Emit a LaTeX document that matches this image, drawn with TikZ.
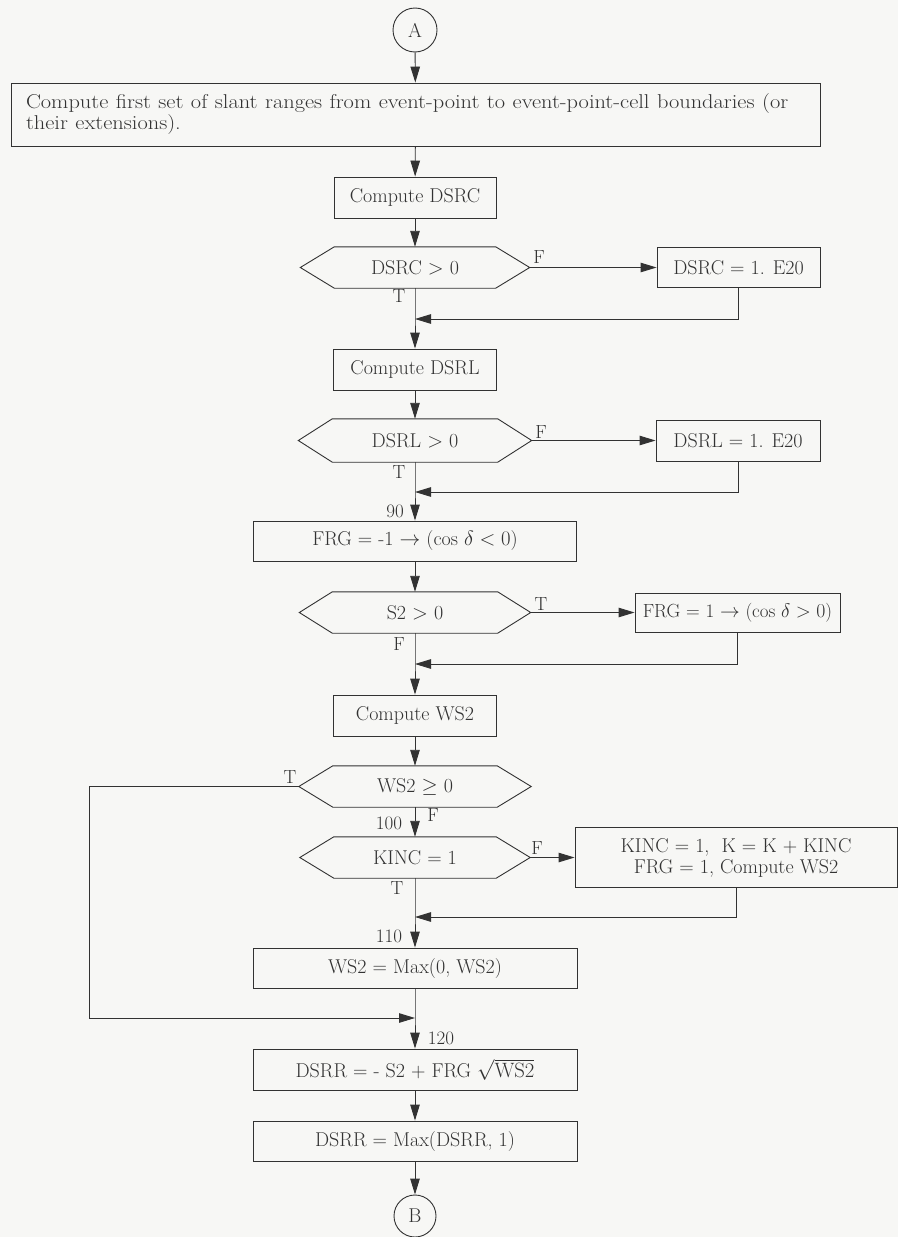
\documentclass[tikz,border=0pt]{standalone}
\usetikzlibrary{arrows.meta}
\definecolor{ink}{RGB}{50,50,50}
\definecolor{paper}{RGB}{247,247,245}
\newcommand\hexdraw[2]{\draw[ln] (#1.west) -- ([xshift=#2]#1.north west) -- ([xshift=-#2]#1.north east) -- (#1.east) -- ([xshift=-#2]#1.south east) -- ([xshift=#2]#1.south west) -- cycle;}
\newcommand\wide[1]{\scalebox{1.12}[1]{#1}}
\tikzset{
  ln/.style={draw=ink, line width=0.9pt},
  arr/.style={ln, -{Triangle[length=16pt,width=9.5pt]}},
  txt/.style={font=\fontsize{20}{21}\selectfont, text=ink},
  box/.style={txt, draw=ink, line width=0.9pt, rectangle, inner sep=0pt},
  hexnode/.style={txt, draw=none, inner sep=0pt, minimum height=41pt},
  lab/.style={font=\fontsize{19}{20}\selectfont, text=ink, inner sep=0pt},
  conn/.style={txt, draw=ink, line width=0.9pt, circle, minimum size=44pt, inner sep=0pt}
}
\begin{document}
\begin{tikzpicture}[x=1pt,y=-1pt]
\fill[paper] (0,0) rectangle (898,1237);
\useasboundingbox (0,0) rectangle (898,1237);

% nodes
\node[conn] (A) at (415,30) {A};
\node[box, minimum width=809pt, minimum height=63pt, text width=779pt, inner xsep=15pt, align=left] (big) at (415.5,114.5)
  {\wide{Compute first set of slant ranges from event-point to event-point-cell boundaries (or}\\\wide{their extensions).}};
\node[box, minimum width=162pt, minimum height=41pt] (c1) at (415,197.5) {Compute DSRC};
\node[hexnode, minimum width=229pt] (h1) at (415,267.5) {DSRC $>$ 0};
\node[box, minimum width=163pt, minimum height=40pt] (r1) at (738.5,267.5) {DSRC = 1. E20};
\coordinate (j1) at (415,319);
\node[box, minimum width=163pt, minimum height=41pt] (c2) at (415,369.5) {Compute DSRL};
\node[hexnode, minimum width=233pt, minimum height=43pt] (h2) at (415,440.5) {DSRL $>$ 0};
\node[box, minimum width=164pt, minimum height=41pt] (r2) at (738,440.5) {DSRL = 1. E20};
\coordinate (j2) at (415,492);
\node[box, minimum width=323pt, minimum height=40pt] (b3) at (415,541) {FRG = -1 $\rightarrow$ (cos $\delta<0$)};
\node[hexnode, minimum width=231pt] (h3) at (415,612.5) {S2 $>$ 0};
\node[box, minimum width=205pt, minimum height=39pt] (r3) at (737.5,612.5) {\scalebox{0.95}{FRG = 1 $\rightarrow$ (cos $\delta>0$)}};
\coordinate (j3) at (415,664);
\node[box, minimum width=163pt, minimum height=41pt] (c4) at (415,715.5) {Compute WS2};
\node[hexnode, minimum width=232pt] (h4) at (415,786.5) {WS2 $\geq$ 0};
\coordinate (lp) at (89,786.5);
\node[hexnode, minimum width=230pt] (h5) at (415,857.5) {KINC = 1};
\node[box, minimum width=322pt, minimum height=60pt, align=center] (r5) at (736,857.5) {KINC = 1,\ \ K = K + KINC\\FRG = 1,\ Compute WS2};
\coordinate (j5) at (415,917);
\node[box, minimum width=324pt, minimum height=40pt] (b6) at (415,968) {WS2 = Max(0, WS2)};
\coordinate (j6) at (415,1018);
\node[box, minimum width=324pt, minimum height=41pt] (b7) at (415,1069.5) {DSRR = - S2 + FRG $\sqrt{\mathrm{WS2}}$};
\node[box, minimum width=324pt, minimum height=40pt] (b8) at (415,1141) {DSRR = Max(DSRR, 1)};
\node[conn, minimum size=42pt] (B) at (415,1216) {B};

% hexagon outlines
\hexdraw{h1}{34}
\hexdraw{h2}{34}
\hexdraw{h3}{33}
\hexdraw{h4}{34}
\hexdraw{h5}{34}

% labels
\node[lab] (lf1) at (539,257) {F};
\node[lab] (lt1) at (399,296) {T};
\node[lab] (lf2) at (541,432) {F};
\node[lab] (lt2) at (399,472) {T};
\node[lab] (l90) at (395,511) {90};
\node[lab] (lt3) at (541,604) {T};
\node[lab] (lf3) at (399,644) {F};
\node[lab] (lt4) at (290,777) {T};
\node[lab] (lf4) at (433,815) {F};
\node[lab] (l100) at (389,823) {100};
\node[lab] (lf5) at (537,848) {F};
\node[lab] (lt5) at (397,888) {T};
\node[lab] (l110) at (389,936) {110};
\node[lab] (l120) at (441,1038) {120};

% connectors
\draw[arr] (A) -- (big);
\draw[arr] (big) -- (c1);
\draw[arr] (c1) -- (h1);
\draw[arr] (h1.east) -- (r1.west);
\draw[arr] (r1.south) |- (j1);
\draw[arr] (h1.south) -- (j1) -- (c2.north);
\draw[arr] (c2) -- (h2);
\draw[arr] (h2.east) -- (r2.west);
\draw[arr] (r2.south) |- (j2);
\draw[arr] (h2.south) -- (j2) -- (b3.north);
\draw[arr] (b3) -- (h3);
\draw[arr] (h3.east) -- (r3.west);
\draw[arr] (r3.south) |- (j3);
\draw[arr] (h3.south) -- (j3) -- (c4.north);
\draw[arr] (c4) -- (h4);
\draw[arr] (h4) -- (h5);
\draw[arr] (h5.east) -- (r5.west);
\draw[arr] (r5.south) |- (j5);
\draw[arr] (h5.south) -- (j5) -- (b6.north);
\draw[arr] (h4.west) -- (lp) |- (j6);
\draw[arr] (b6.south) -- (j6) -- (b7.north);
\draw[arr] (b7) -- (b8);
\draw[arr] (b8) -- (B);
\end{tikzpicture}
\end{document}
